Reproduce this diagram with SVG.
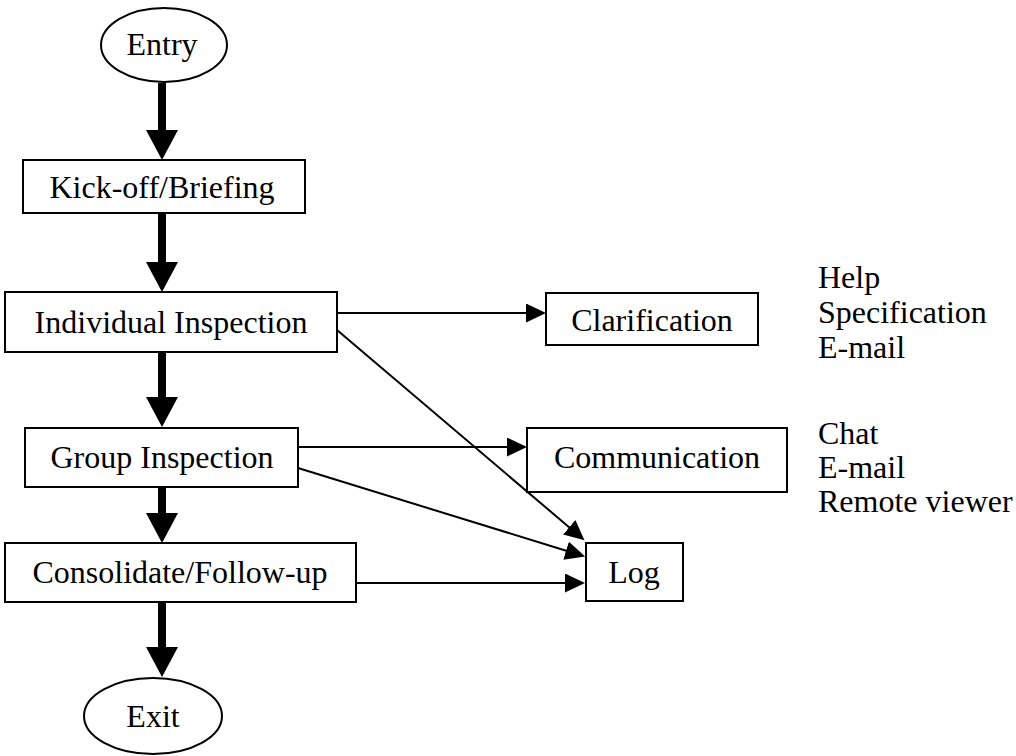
<svg xmlns="http://www.w3.org/2000/svg" width="1016" height="756" viewBox="0 0 1016 756">
  <style>
    .box { fill: #ffffff; stroke: #000000; stroke-width: 2; }
    .lbl { font-family: 'Liberation Serif', 'Times New Roman', 'DejaVu Serif', serif; font-size: 32px; fill: #000000; }
    .mid { text-anchor: middle; }
    .flow { stroke: #000000; stroke-width: 8; fill: none; }
    .link { stroke: #000000; stroke-width: 2; fill: none; }
  </style>
  <defs>
    <marker id="bigHead" markerUnits="userSpaceOnUse" viewBox="0 0 30 32" markerWidth="30" markerHeight="32" refX="1" refY="16" orient="auto">
      <path d="M0,0 L30,16 L0,32 z" fill="#000000"/>
    </marker>
    <marker id="smallHead" markerUnits="userSpaceOnUse" viewBox="0 0 20 19" markerWidth="20" markerHeight="19" refX="1" refY="9.5" orient="auto">
      <path d="M0,0 L20,9.5 L0,19 z" fill="#000000"/>
    </marker>
  </defs>
  <rect width="1016" height="756" fill="#ffffff"/>

  <g id="connectors">
    <!-- main process flow -->
    <line class="flow" x1="162" y1="83" x2="162" y2="131" marker-end="url(#bigHead)"/>
    <line class="flow" x1="162" y1="213" x2="162" y2="263" marker-end="url(#bigHead)"/>
    <line class="flow" x1="162" y1="352" x2="162" y2="398" marker-end="url(#bigHead)"/>
    <line class="flow" x1="162" y1="487" x2="162" y2="514" marker-end="url(#bigHead)"/>
    <line class="flow" x1="162" y1="602" x2="162" y2="648" marker-end="url(#bigHead)"/>
    <!-- support links -->
    <line class="link" x1="337" y1="313" x2="527" y2="313" marker-end="url(#smallHead)"/>
    <line class="link" x1="337" y1="330" x2="570" y2="528" marker-end="url(#smallHead)"/>
    <line class="link" x1="298" y1="447" x2="508" y2="447" marker-end="url(#smallHead)"/>
    <line class="link" x1="298" y1="468" x2="567" y2="551" marker-end="url(#smallHead)"/>
    <line class="link" x1="356" y1="583" x2="566" y2="583" marker-end="url(#smallHead)"/>
  </g>

  <g id="entry">
    <ellipse class="box" cx="164" cy="45" rx="63" ry="37"/>
    <text class="lbl mid" x="162" y="55">Entry</text>
  </g>
  <g id="kickoff">
    <rect class="box" x="23" y="160" width="282" height="53"/>
    <text class="lbl mid" x="162" y="198">Kick-off/Briefing</text>
  </g>
  <g id="individual">
    <rect class="box" x="5" y="292" width="332" height="60"/>
    <text class="lbl mid" x="171" y="333">Individual Inspection</text>
  </g>
  <g id="group">
    <rect class="box" x="25" y="428" width="273" height="59"/>
    <text class="lbl mid" x="162" y="468">Group Inspection</text>
  </g>
  <g id="consolidate">
    <rect class="box" x="5" y="543" width="351" height="59"/>
    <text class="lbl mid" x="180" y="583">Consolidate/Follow-up</text>
  </g>
  <g id="exit">
    <ellipse class="box" cx="153" cy="716" rx="69" ry="38"/>
    <text class="lbl mid" x="153" y="727">Exit</text>
  </g>
  <g id="clarification">
    <rect class="box" x="546" y="293" width="212" height="52"/>
    <text class="lbl mid" x="652" y="331">Clarification</text>
    <text class="lbl" x="818" y="288">Help</text>
    <text class="lbl" x="818" y="323">Specification</text>
    <text class="lbl" x="818" y="358">E-mail</text>
  </g>
  <g id="communication">
    <rect class="box" x="527" y="428" width="260" height="64"/>
    <text class="lbl mid" x="657" y="468">Communication</text>
    <text class="lbl" x="818" y="444">Chat</text>
    <text class="lbl" x="818" y="478">E-mail</text>
    <text class="lbl" x="818" y="512">Remote viewer</text>
  </g>
  <g id="log">
    <rect class="box" x="586" y="543" width="97" height="58"/>
    <text class="lbl mid" x="634" y="583">Log</text>
  </g>
</svg>
